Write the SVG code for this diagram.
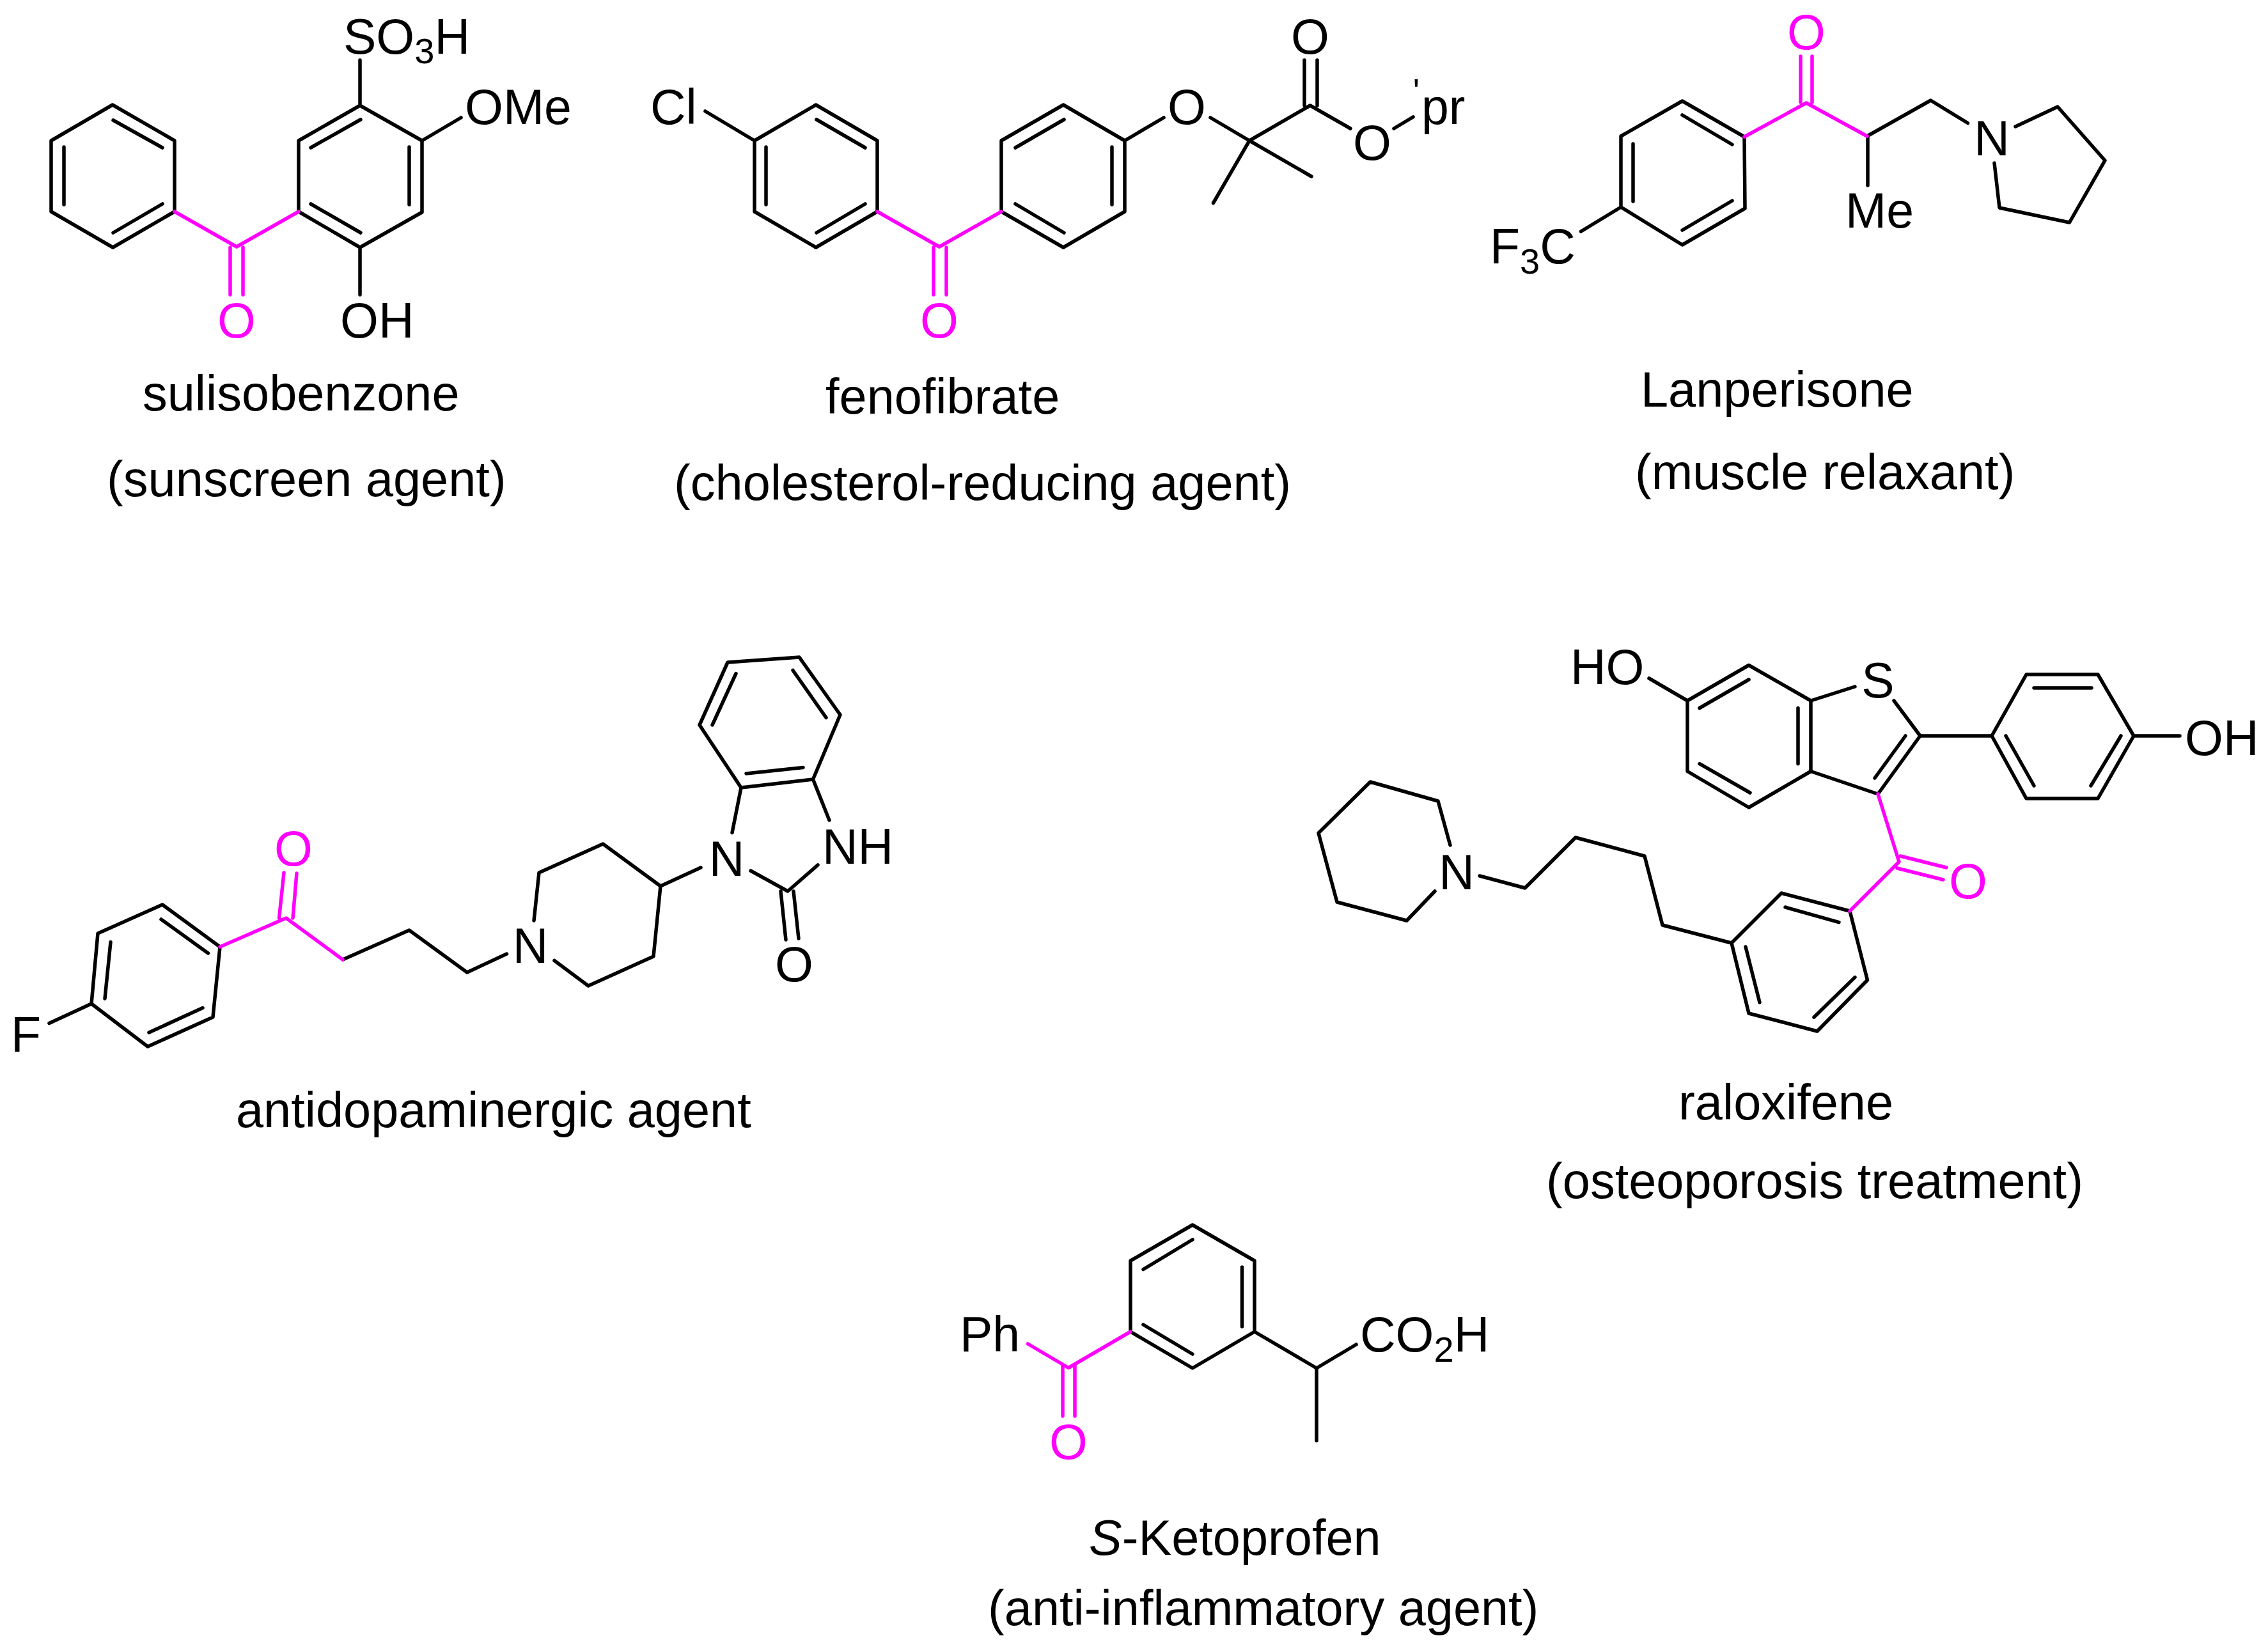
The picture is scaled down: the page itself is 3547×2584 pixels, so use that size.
<svg xmlns="http://www.w3.org/2000/svg" width="3547" height="2584" viewBox="0 0 3547 2584">
<style>
text{font-family:"Liberation Sans",Arial,sans-serif;fill:#000}
.a{font-size:77px}
.c{font-size:77.500px}
.m{text-anchor:middle}
.k{fill:#f0f}
.s{font-size:56px}
.t{font-size:54px}
path{fill:none;stroke-linecap:round;stroke-linejoin:round;stroke-width:5.500px}
.b{stroke:#000}
.p{stroke:#f0f}
</style>
<rect width="3547" height="2584" fill="#fff"/>
<g id="connectors">
<g id="bonds-sulisobenzone">
<path class="b" d="M273 331L176.500 387L80 331V220L176 164L273 220V331M177 188L254 231M100 230V320M177 364L254 319"/>
<path class="b" d="M467 331V220L563 165L660 220V332L563 387L467 331M564 187L486 231M640 230V320M564 364L486 319M563 94V165M660 220L721 184M563 387V461"/>
<path class="p" d="M273 331L370 386L467 331M360 387V461M380 387V461"/>
</g>
<g id="bonds-fenofibrate">
<path class="b" d="M1372 331V220L1276 164L1180 220V331L1276 387L1372 331M1277 187L1353 231M1198 230V320M1277 364L1353 319M1103 174L1180 220"/>
<path class="b" d="M1566 331V220L1663 164L1759 220V331L1663 387L1566 331M1664 187L1588 231M1739 230V320M1664 364L1588 319M1759 220L1820 184M1893 184L1954 220L2049 165L2112 201M1954 220L2051 276M1954 220L1897.500 317.500M2040 94V165M2060 94V165M2180 201L2210 183"/>
<path class="p" d="M1372 331L1469 386L1566 331M1460 387V461M1480 387V461"/>
</g>
<g id="bonds-lanperisone">
<path class="b" d="M2728 214L2631 158L2535 213V324L2631 383L2729 326L2728 214M2631 180L2709 226M2554 225V315M2631 360L2709 314M2472.500 362L2535 324M2920 213L3019.500 157L3077.500 192.500M2921 213V290M3152 198L3218 167L3292 251L3236.500 348L3127 325L3119 255"/>
<path class="p" d="M2728 214L2825 161L2920 213M2816 88V160M2834 88V160"/>
</g>
<g id="bonds-antidopaminergic">
<path class="b" d="M77 1600.500L143 1570L153 1460L254 1415L344 1481L333 1591L231 1637L143 1570M173 1473.500L164 1562M252 1438L325.500 1491M317 1576.500L233 1615M536 1501L640 1455L730.500 1521L792.500 1492M835 1440L843 1365L943 1320L1033 1386L1022 1496L920 1542L867 1502.500M1033 1386L1096 1357M1145 1302.500L1159 1232L1094 1134L1138 1036L1250 1028L1314 1118L1271.500 1219L1159 1232M1167 1210L1256 1200.500M1114 1134L1151 1053.500M1240 1048.500L1292 1122.500M1271.500 1219L1297 1283M1174 1362L1232 1394L1279 1353M1221 1394L1229 1470M1241 1394L1249 1468"/>
<path class="p" d="M344 1481L447.500 1436L536 1501M436.500 1436L444 1365M458 1436L464 1366"/>
</g>
<g id="bonds-raloxifene">
<path class="b" d="M2579 1061L2639 1096L2735 1040.500L2832 1096V1206.500L2735 1263L2639 1206.500V1096M2735 1063L2658 1107.500M2812 1107.500V1194.700M2737 1240L2658 1194.700M2832 1096L2901 1074M2962 1096L3003 1151L2937 1242L2832 1206.500M2980 1151L2932 1217M3003 1151H3115L3169 1055H3281L3337 1151L3281 1249H3169L3115 1151M3181 1076H3271M3137 1151L3181 1229M3317 1151L3270 1229M3337 1151H3409"/>
<path class="b" d="M2893 1425L2786 1397L2708 1475L2735 1585L2842 1613L2920.500 1533L2893 1425M2792 1419L2876 1442.600M2730 1481L2752 1568M2837 1591L2901 1528.600M2708 1475L2600 1447L2572 1339L2464 1310L2385 1389L2314 1370M2268 1322L2249 1253L2143 1223L2062 1303L2091 1411L2200 1440L2244 1394"/>
<path class="p" d="M2937 1242L2970 1348L2893 1425M2972 1339L3044 1357M2967 1358L3039 1376"/>
</g>
<g id="bonds-ketoprofen">
<path class="b" d="M1768 2083V1972L1865 1916L1962 1972V2083L1865 2140L1768 2083M1865 1939L1788 1985.500M1942.500 1982V2075M1865 2118L1788 2072M1962 2083L2059 2140L2121 2103M2059 2140V2253.600"/>
<path class="p" d="M1768 2083L1671 2139.500L1607.500 2102M1662 2136V2215M1681 2136V2215"/>
</g>
</g>
<g id="sulisobenzone">
<text class="a" x="537" y="84">SO<tspan class="s" dy="15">3</tspan><tspan dy="-15">H</tspan></text>
<text class="a" x="727" y="194">OMe</text>
<text class="a m k" x="370" y="528">O</text>
<text class="a" x="532" y="528">OH</text>
<text class="c" x="223" y="642">sulisobenzone</text>
<text class="c" x="167" y="776">(sunscreen agent)</text>
</g>
<g id="fenofibrate">
<text class="a" x="1017" y="194">Cl</text>
<text class="a m" x="1856" y="194">O</text>
<text class="a m" x="2049" y="84">O</text>
<text class="a m" x="2146" y="250">O</text>
<text class="a m k" x="1469" y="528">O</text>
<text class="t m" x="2215" y="161">'</text>
<text class="a" x="2223" y="194">pr</text>
<text class="c" x="1291" y="647">fenofibrate</text>
<text class="c" x="1054" y="782">(cholesterol-reducing agent)</text>
</g>
<g id="lanperisone">
<text class="a m k" x="2825" y="77">O</text>
<text class="a" x="2886" y="356">Me</text>
<text class="a m" x="3115" y="243">N</text>
<text class="a" x="2330" y="412">F<tspan class="s" dy="16">3</tspan><tspan dy="-16">C</tspan></text>
<text class="c" x="2566" y="636">Lanperisone</text>
<text class="c" x="2557" y="765">(muscle relaxant)</text>
</g>
<g id="antidopaminergic">
<text class="a" x="17" y="1645">F</text>
<text class="a m k" x="459" y="1354">O</text>
<text class="a m" x="829.500" y="1506">N</text>
<text class="a m" x="1136.500" y="1370">N</text>
<text class="a" x="1286" y="1351">NH</text>
<text class="a m" x="1242" y="1535">O</text>
<text class="c" x="369" y="1763">antidopaminergic agent</text>
</g>
<g id="raloxifene">
<text class="a" x="2456" y="1070">HO</text>
<text class="a m" x="2937" y="1091">S</text>
<text class="a" x="3417" y="1181">OH</text>
<text class="a m k" x="3078" y="1405">O</text>
<text class="a m" x="2278" y="1391">N</text>
<text class="c" x="2625" y="1751">raloxifene</text>
<text class="c" x="2418" y="1874">(osteoporosis treatment)</text>
</g>
<g id="ketoprofen">
<text class="a" x="1501" y="2114">Ph</text>
<text class="a m k" x="1671" y="2282">O</text>
<text class="a" x="2127" y="2114">CO<tspan class="s" dy="16">2</tspan><tspan dy="-16">H</tspan></text>
<text class="c" x="1703" y="2432"><tspan font-style="italic">S</tspan>-Ketoprofen</text>
<text class="c" x="1545" y="2542">(anti-inflammatory agent)</text>
</g>
</svg>
